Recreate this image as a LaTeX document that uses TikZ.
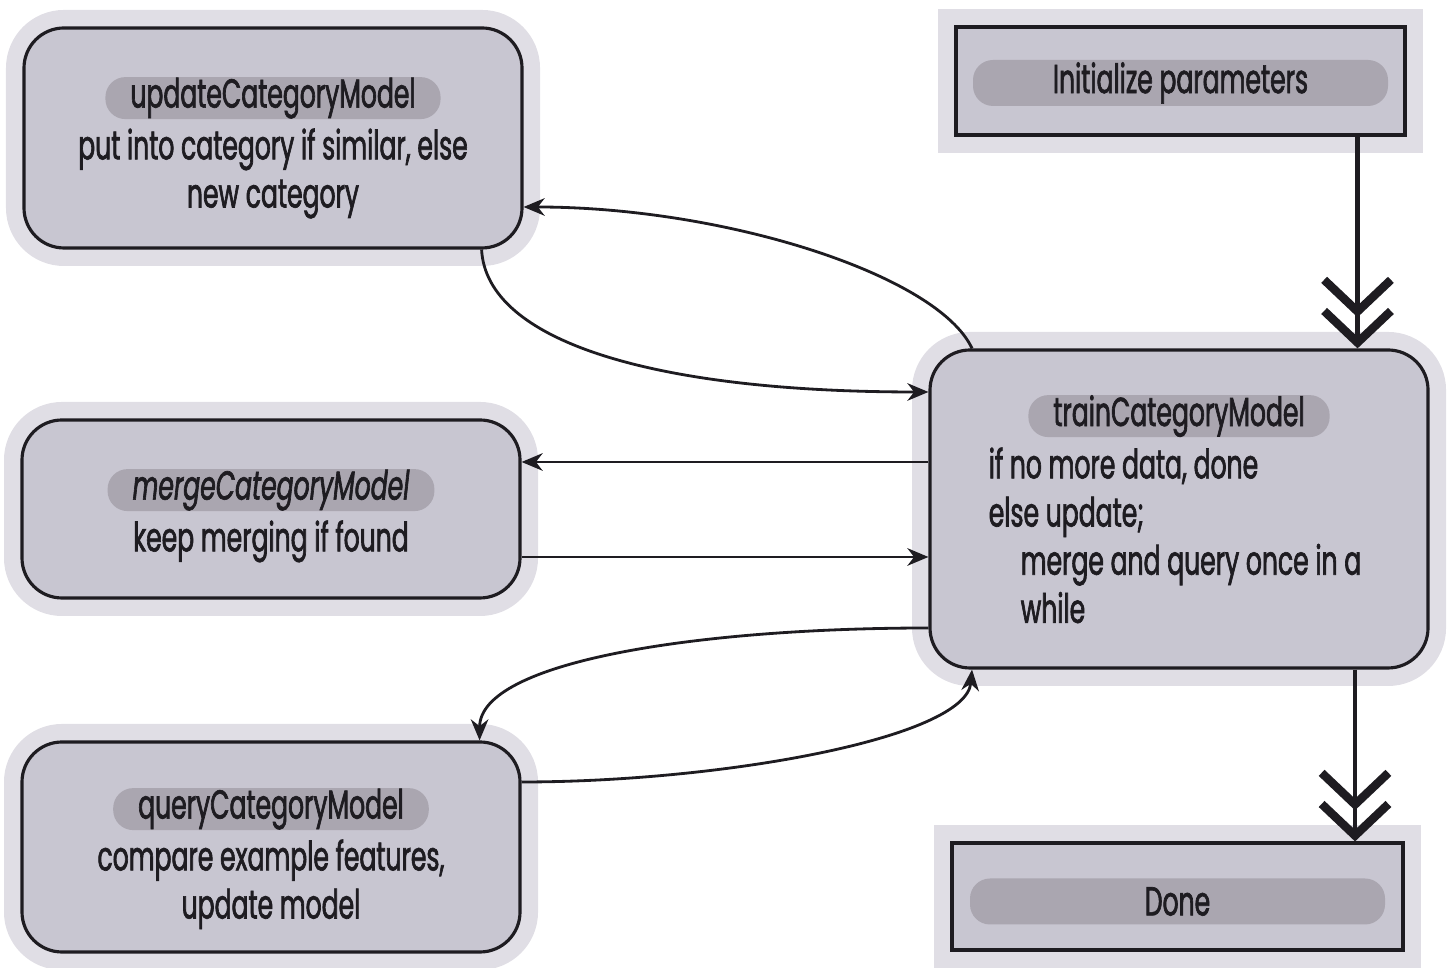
\documentclass[tikz,border=0pt]{standalone}
\usepackage{fontspec}
\setmainfont{Poppins}[FakeStretch=0.62, FakeBold=1.6]
\usetikzlibrary{positioning, arrows.meta}
\definecolor{boxfill}{RGB}{200,198,209}
\definecolor{halo}{RGB}{224,222,229}
\definecolor{pillfill}{RGB}{170,166,176}
\definecolor{ink}{RGB}{30,28,33}
\tikzstyle{arrow} = [line width=0.8pt, draw=ink, -{Stealth[length=6pt,width=5pt]}]
\tikzstyle{flow} = [line width=1.4pt, draw=ink, -{Straight Barb[length=9pt,width=19pt,line width=2.4pt,sep=-3pt] Straight Barb[length=9pt,width=19pt,line width=2.4pt]}]
\tikzstyle{module} = [draw=ink, line width=0.9pt, fill=boxfill, rounded corners=0.4cm, inner sep=0pt, preaction={draw=halo, line width=0.36cm}]
\tikzstyle{stage} = [draw=ink, line width=0.9pt, fill=boxfill, inner sep=0pt, preaction={draw=halo, line width=0.36cm}]
\tikzstyle{pill} = [fill=pillfill, rounded corners=0.2cm, minimum height=0.42cm, inner xsep=0.25cm, inner ysep=0pt, text=ink]
\tikzstyle{body} = [align=center, text=ink, inner sep=0pt]

\begin{document}
\begin{tikzpicture}[every node/.style={font=\fontsize{11.5}{13.7}\selectfont}]
\useasboundingbox (0,0) rectangle (14.5,9.68);

% the four modules
\node(upd)[module, minimum width=4.98cm, minimum height=2.20cm] at (2.73,8.30) {};
\node(mrg)[module, minimum width=4.98cm, minimum height=1.78cm] at (2.71,4.59) {};
\node(qry)[module, minimum width=4.98cm, minimum height=2.10cm] at (2.71,1.21) {};
\node(trn)[module, minimum width=4.98cm, minimum height=3.18cm] at (11.79,4.59) {};

% start and end
\node(ini)[stage, minimum width=4.49cm, minimum height=1.08cm] at (11.805,8.87) {};
\node(don)[stage, minimum width=4.51cm, minimum height=1.07cm] at (11.775,0.715) {};

\node(updt)[pill, below=0.5cm of upd.north]{updateCategoryModel};
\node(updb)[body, below=0.08cm of updt]{put into category if similar, else\\new category};
\node(mrgt)[pill, below=0.5cm of mrg.north]{\itshape mergeCategoryModel};
\node(mrgb)[body, below=0.08cm of mrgt]{keep merging if found};
\node(qryt)[pill, below=0.47cm of qry.north]{queryCategoryModel};
\node(qryb)[body, below=0.08cm of qryt]{compare example features,\\update model};
\node(trnt)[pill, below=0.46cm of trn.north]{trainCategoryModel};
\node(trnb)[body, align=left, below=0.09cm of trnt, xshift=-0.04cm]{if no more data, done\\else update;\\\hspace*{0.32cm}merge and query once in a\\\hspace*{0.32cm}while};
\node(init)[pill, minimum width=4.15cm, minimum height=0.46cm] at ([yshift=-0.02cm]ini.center) {Initialize parameters};
\node(dont)[pill, minimum width=4.15cm, minimum height=0.46cm] at ([yshift=-0.05cm]don.center) {Done};

\coordinate (ia) at ([xshift=1.77cm]ini.south);
\coordinate (ta) at ([xshift=1.76cm]trn.south);
\draw [flow] (ia) -- (ia |- trn.north);
\draw [flow] (ta) -- (ta |- don.north);

\draw [arrow] ([xshift=-0.42cm]upd.south east) to[out=-87,in=180,out looseness=0.5,in looseness=1.5] ([yshift=1.17cm]trn.west);
\draw [arrow] ([xshift=-2.07cm]trn.north) to[out=115,in=0,out looseness=0.44,in looseness=1.1] ([yshift=-0.69cm]upd.east);
\draw [arrow] ([yshift=0.47cm]trn.west) -- ([yshift=0.47cm]mrg.east);
\draw [arrow] ([yshift=-0.48cm]mrg.east) -- ([yshift=-0.48cm]trn.west);
\draw [arrow] ([yshift=-1.19cm]trn.west) to[out=180,in=90,out looseness=1.26,in looseness=0.44] ([xshift=-0.42cm]qry.north east);
\draw [arrow] ([yshift=0.65cm]qry.east) to[out=0,in=-95,out looseness=1.1,in looseness=0.38] ([xshift=-2.07cm]trn.south);

\end{tikzpicture}
\end{document}
